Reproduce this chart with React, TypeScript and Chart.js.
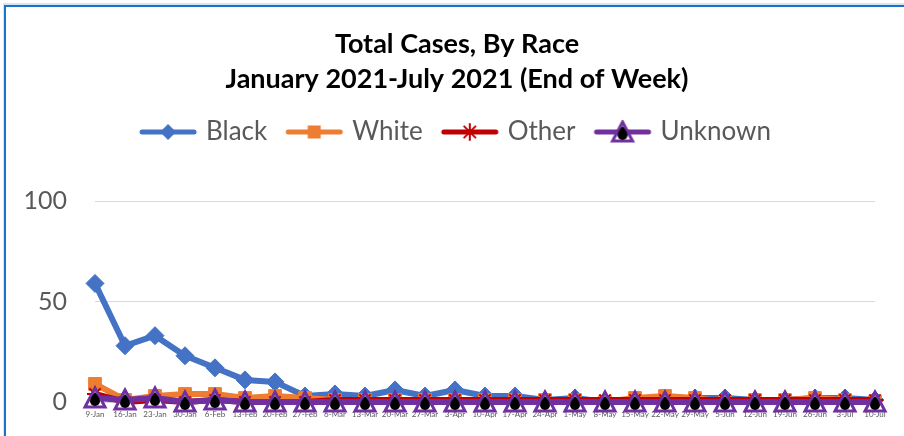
import React, { useEffect, useRef } from "react";
import { Chart, registerables, layouts } from "chart.js";

Chart.register(...registerables);

const categories = [
  "9-Jan", "16-Jan", "23-Jan", "30-Jan", "6-Feb", "13-Feb", "20-Feb", "27-Feb",
  "6-Mar", "13-Mar", "20-Mar", "27-Mar", "3-Apr", "10-Apr", "17-Apr", "24-Apr",
  "1-May", "8-May", "15-May", "22-May", "29-May", "5-Jun", "12-Jun", "19-Jun",
  "26-Jun", "3-Jul", "10-Jul",
];
const blackCases = [59, 28, 33, 23, 17, 11, 10, 3, 4, 3, 6, 3, 6, 3, 3, 1, 2, 0, 1, 1, 2, 2, 1, 1, 2, 2, 1];
const whiteCases = [9, 1, 3, 4, 4, 2, 3, 2, 1, 1, 1, 1, 1, 1, 1, 1, 1, 0, 2, 3, 2, 0, 1, 1, 2, 1, 0];
const otherCases = [4, 0, 1, 0, 1, 0, 0, 0, 1, 1, 1, 1, 1, 1, 1, 1, 1, 1, 1, 1, 1, 1, 1, 1, 1, 1, 1];
const unknownCases = [2, 1, 2, 0, 1, 0, 0, 0, 0, 0, 0, 0, 0, 0, 0, 0, 0, 0, 0, 0, 0, 0, 0, 0, 0, 0, 0];
const seriesNames = ["Black", "White", "Other", "Unknown"];
const yMin = 0;
const yMax = 100;
const yStep = 50;
const titleLines = ["Total Cases, By Race", "January 2021-July 2021 (End of Week)"];

const COLORS = ["#4472C4", "#ED7D31", "#C00000", "#7030A0"];
const FONT = "Lato, 'Open Sans', 'Noto Sans', sans-serif";
const TEXT = "#595959";

function drawMarker(ctx: CanvasRenderingContext2D, kind: number, cx: number, cy: number) {
  const c = COLORS[kind];
  ctx.save();
  if (kind === 0) {
    ctx.fillStyle = c;
    ctx.beginPath();
    ctx.moveTo(cx, cy - 8);
    ctx.lineTo(cx + 8, cy);
    ctx.lineTo(cx, cy + 8);
    ctx.lineTo(cx - 8, cy);
    ctx.closePath();
    ctx.fill();
  } else if (kind === 1) {
    ctx.fillStyle = c;
    ctx.fillRect(cx - 6.5, cy - 6.5, 13, 13);
  } else if (kind === 2) {
    ctx.strokeStyle = c;
    ctx.lineWidth = 2;
    ctx.beginPath();
    const r = 8;
    ctx.moveTo(cx - r * 0.7, cy - r * 0.7);
    ctx.lineTo(cx + r * 0.7, cy + r * 0.7);
    ctx.moveTo(cx + r * 0.7, cy - r * 0.7);
    ctx.lineTo(cx - r * 0.7, cy + r * 0.7);
    ctx.moveTo(cx, cy - r);
    ctx.lineTo(cx, cy + r);
    ctx.stroke();
  } else {
    ctx.fillStyle = "#ffffff";
    ctx.strokeStyle = c;
    ctx.lineWidth = 3;
    ctx.lineJoin = "miter";
    ctx.beginPath();
    ctx.moveTo(cx, cy - 10);
    ctx.lineTo(cx + 10, cy + 9);
    ctx.lineTo(cx - 10, cy + 9);
    ctx.closePath();
    ctx.fill();
    ctx.stroke();
    ctx.fillStyle = "#000000";
    ctx.beginPath();
    ctx.moveTo(cx, cy - 6);
    ctx.quadraticCurveTo(cx + 5, cy, cx + 5, cy + 3);
    ctx.arc(cx, cy + 3, 5, 0, Math.PI, false);
    ctx.quadraticCurveTo(cx - 5, cy, cx, cy - 6);
    ctx.closePath();
    ctx.fill();
  }
  ctx.restore();
}

function makePointImage(kind: number): HTMLCanvasElement {
  const cv = document.createElement("canvas");
  cv.width = 26;
  cv.height = 26;
  const ctx = cv.getContext("2d")!;
  drawMarker(ctx, kind, 13, 13);
  return cv;
}

function makeLegendImage(kind: number): HTMLCanvasElement {
  const cv = document.createElement("canvas");
  cv.width = 60;
  cv.height = 24;
  const ctx = cv.getContext("2d")!;
  ctx.strokeStyle = COLORS[kind];
  ctx.lineWidth = 5;
  ctx.lineCap = "round";
  ctx.beginPath();
  ctx.moveTo(4, 12);
  ctx.lineTo(56, 12);
  ctx.stroke();
  drawMarker(ctx, kind, 30, 12);
  return cv;
}

function makeSpacer(position: string, weight: number, size: number, fullSize: boolean) {
  const horizontal = position === "top" || position === "bottom";
  return {
    position,
    weight,
    fullSize,
    options: {},
    width: 0,
    height: 0,
    top: 0,
    left: 0,
    right: 0,
    bottom: 0,
    isHorizontal() {
      return horizontal;
    },
    update(maxWidth: number, maxHeight: number) {
      if (horizontal) {
        this.width = maxWidth;
        this.height = size;
      } else {
        this.width = size;
        this.height = maxHeight;
      }
    },
    draw() {},
  };
}

const spacerPlugin = {
  id: "layoutSpacers",
  beforeInit(chart: any) {
    layouts.addBox(chart, makeSpacer("top", 500, 46, true) as any);
    layouts.addBox(chart, makeSpacer("right", 0, 19, false) as any);
  },
};

export default function App() {
  const ref = useRef<HTMLCanvasElement>(null);

  useEffect(() => {
    const canvas = ref.current;
    if (!canvas) return;
    const allData = [blackCases, whiteCases, otherCases, unknownCases];
    const legendImages = [0, 1, 2, 3].map(makeLegendImage);
    const unknownPoint = makePointImage(3);
    const styles: any[] = ["rectRot", "rect", "star", unknownPoint];
    const radii = [9, 9, 8, 11];

    const chart = new Chart(canvas, {
      type: "line",
      data: {
        labels: categories,
        datasets: allData.map((d, i) => ({
          label: seriesNames[i],
          data: d,
          borderColor: COLORS[i],
          backgroundColor: COLORS[i],
          borderWidth: 6,
          borderJoinStyle: "round" as const,
          borderCapStyle: "round" as const,
          tension: 0,
          pointStyle: styles[i],
          pointRadius: radii[i],
          pointHoverRadius: radii[i],
          pointBorderWidth: i === 2 ? 2 : 1,
          pointBackgroundColor: COLORS[i],
          pointBorderColor: COLORS[i],
          order: 4 - i,
          clip: false as any,
        })),
      },
      options: {
        animation: false,
        responsive: false,
        maintainAspectRatio: false,
        devicePixelRatio: 1,
        layout: { padding: { top: 0, left: 20, right: 10, bottom: 0 } },
        plugins: {
          tooltip: { enabled: false },
          title: {
            display: true,
            text: titleLines,
            color: "#000000",
            font: { family: FONT, size: 27, weight: "bold", lineHeight: "35px" },
            padding: { top: 27, bottom: 0 },
          },
          legend: {
            display: true,
            position: "top",
            labels: {
              usePointStyle: true,
              pointStyleWidth: 50,
              padding: 22,
              color: TEXT,
              font: { family: FONT, size: 26 },
              generateLabels: () =>
                seriesNames.map((name, i) => ({
                  text: name,
                  pointStyle: legendImages[i] as any,
                  fillStyle: COLORS[i],
                  strokeStyle: COLORS[i],
                  lineWidth: 0,
                  hidden: false,
                  datasetIndex: i,
                  fontColor: TEXT,
                })),
            },
          },
        },
        scales: {
          x: {
            type: "category",
            offset: false,
            grid: { display: false, drawTicks: false },
            border: { display: false },
            ticks: {
              autoSkip: false,
              maxRotation: 0,
              minRotation: 0,
              padding: 8,
              color: TEXT,
              font: { family: FONT, size: 8 },
            },
            afterFit: (scale: any) => {
              scale.height = 34;
            },
          },
          y: {
            min: yMin,
            max: yMax,
            grid: {
              color: "#d9d9d9",
              lineWidth: 1,
              drawTicks: true,
              tickLength: 28,
              tickColor: "rgba(0,0,0,0)",
            },
            border: { display: false },
            ticks: {
              stepSize: yStep,
              padding: 0,
              color: TEXT,
              font: { family: FONT, size: 25 },
            },
            afterFit: (scale: any) => {
              scale.width = 75;
            },
          },
        },
      },
      plugins: [spacerPlugin as any],
    });

    return () => chart.destroy();
  }, []);

  return (
    <div
      style={{
        position: "fixed",
        left: 0,
        top: 0,
        width: 904,
        height: 436,
        background: "#ffffff",
        overflow: "hidden",
      }}
    >
      <div
        style={{
          position: "absolute",
          left: 4,
          top: 5,
          width: 920,
          height: 460,
          borderTop: "2px solid #1a73c8",
          borderLeft: "2px solid #1a73c8",
          boxShadow: "-1px -2px 0 #d4e5f5",
        }}
      />
      <canvas
        ref={ref}
        width={904}
        height={436}
        style={{ position: "absolute", left: 0, top: 0, width: 904, height: 436 }}
      />
    </div>
  );
}
